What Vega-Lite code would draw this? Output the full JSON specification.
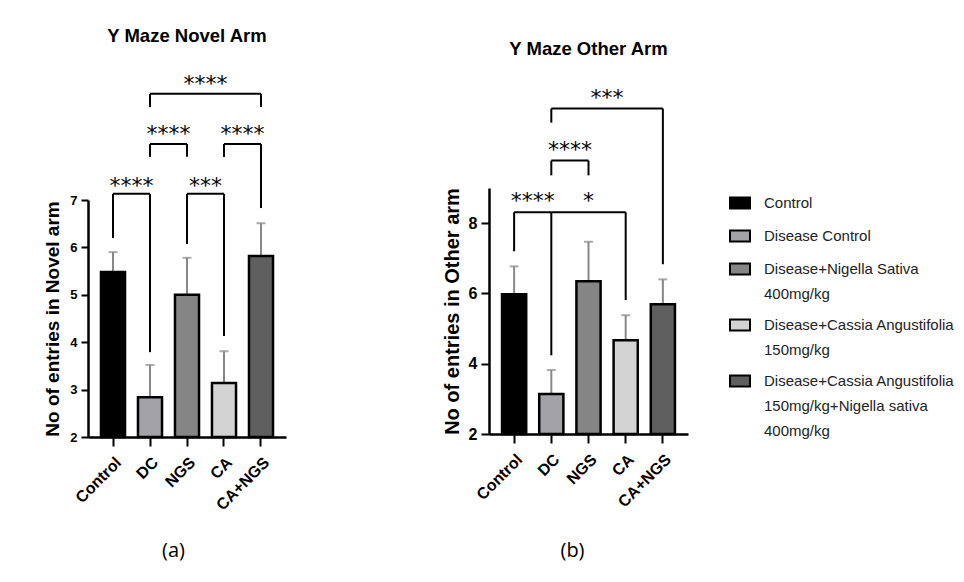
{
  "$schema": "https://vega.github.io/schema/vega-lite/v6.json",
  "background": "white",
  "padding": {"left": 43, "top": 26, "right": 5, "bottom": 5},
  "bounds": "flush",
  "spacing": 203,
  "config": {
    "view": {"stroke": null},
    "font": "Liberation Sans",
    "axis": {"grid": false, "domainColor": "black", "domainWidth": 2.5, "tickColor": "black", "tickWidth": 2, "labelColor": "black", "labelFontWeight": "bold", "titleColor": "black", "labelFont": "Liberation Sans", "titleFont": "Liberation Sans"},
    "legend": {"labelFont": "Liberation Sans", "labelFontSize": 15, "labelColor": "#222222", "labelOffset": 13, "rowPadding": 12, "symbolStrokeColor": "black", "symbolStrokeWidth": 2, "symbolSize": 400, "symbolType": "M-1,-0.55H1V0.55H-1Z", "symbolOpacity": 1, "labelLimit": 0}
  },
  "datasets": {
    "bars": [
      {"panel": "a", "group": "Control", "treatment": "Control", "mean": 5.48, "upper": 5.9},
      {"panel": "a", "group": "DC", "treatment": "Disease Control", "mean": 2.84, "upper": 3.52},
      {"panel": "a", "group": "NGS", "treatment": "Disease+Nigella Sativa|400mg/kg", "mean": 5.0, "upper": 5.78},
      {"panel": "a", "group": "CA", "treatment": "Disease+Cassia Angustifolia|150mg/kg", "mean": 3.14, "upper": 3.81},
      {"panel": "a", "group": "CA+NGS", "treatment": "Disease+Cassia Angustifolia|150mg/kg+Nigella sativa|400mg/kg", "mean": 5.82, "upper": 6.51},
      {"panel": "b", "group": "Control", "treatment": "Control", "mean": 5.98, "upper": 6.77},
      {"panel": "b", "group": "DC", "treatment": "Disease Control", "mean": 3.14, "upper": 3.82},
      {"panel": "b", "group": "NGS", "treatment": "Disease+Nigella Sativa|400mg/kg", "mean": 6.35, "upper": 7.47},
      {"panel": "b", "group": "CA", "treatment": "Disease+Cassia Angustifolia|150mg/kg", "mean": 4.67, "upper": 5.38},
      {"panel": "b", "group": "CA+NGS", "treatment": "Disease+Cassia Angustifolia|150mg/kg+Nigella sativa|400mg/kg", "mean": 5.69, "upper": 6.4}
    ],
    "segs": [
      {"panel": "a", "xa": "Control", "xb": "DC", "ya": 7.13, "yb": 7.13},
      {"panel": "a", "xa": "Control", "xb": "Control", "ya": 7.13, "yb": 6.2},
      {"panel": "a", "xa": "DC", "xb": "DC", "ya": 7.13, "yb": 3.79},
      {"panel": "a", "xa": "NGS", "xb": "CA", "ya": 7.13, "yb": 7.13},
      {"panel": "a", "xa": "NGS", "xb": "NGS", "ya": 7.13, "yb": 6.07},
      {"panel": "a", "xa": "CA", "xb": "CA", "ya": 7.13, "yb": 4.13},
      {"panel": "a", "xa": "DC", "xb": "NGS", "ya": 8.18, "yb": 8.18},
      {"panel": "a", "xa": "DC", "xb": "DC", "ya": 8.18, "yb": 7.91},
      {"panel": "a", "xa": "NGS", "xb": "NGS", "ya": 8.18, "yb": 7.91},
      {"panel": "a", "xa": "CA", "xb": "CA+NGS", "ya": 8.18, "yb": 8.18},
      {"panel": "a", "xa": "CA", "xb": "CA", "ya": 8.18, "yb": 7.91},
      {"panel": "a", "xa": "CA+NGS", "xb": "CA+NGS", "ya": 8.18, "yb": 6.83},
      {"panel": "a", "xa": "DC", "xb": "CA+NGS", "ya": 9.24, "yb": 9.24},
      {"panel": "a", "xa": "DC", "xb": "DC", "ya": 9.24, "yb": 8.96},
      {"panel": "a", "xa": "CA+NGS", "xb": "CA+NGS", "ya": 9.24, "yb": 8.96},
      {"panel": "b", "xa": "Control", "xb": "DC", "ya": 8.31, "yb": 8.31},
      {"panel": "b", "xa": "Control", "xb": "Control", "ya": 8.31, "yb": 7.2},
      {"panel": "b", "xa": "DC", "xb": "DC", "ya": 8.31, "yb": 4.24},
      {"panel": "b", "xa": "DC", "xb": "CA", "ya": 8.31, "yb": 8.31},
      {"panel": "b", "xa": "CA", "xb": "CA", "ya": 8.31, "yb": 5.81},
      {"panel": "b", "xa": "DC", "xb": "NGS", "ya": 9.78, "yb": 9.78},
      {"panel": "b", "xa": "DC", "xb": "DC", "ya": 9.78, "yb": 9.36},
      {"panel": "b", "xa": "NGS", "xb": "NGS", "ya": 9.78, "yb": 9.36},
      {"panel": "b", "xa": "DC", "xb": "CA+NGS", "ya": 11.26, "yb": 11.26},
      {"panel": "b", "xa": "DC", "xb": "DC", "ya": 11.26, "yb": 10.86},
      {"panel": "b", "xa": "CA+NGS", "xb": "CA+NGS", "ya": 11.26, "yb": 6.83}
    ],
    "stars": [
      {"panel": "a", "stars": "****", "at": "Control", "pos": "edge", "y": 7.42},
      {"panel": "a", "stars": "***", "at": "NGS", "pos": "edge", "y": 7.42},
      {"panel": "a", "stars": "****", "at": "DC", "pos": "edge", "y": 8.52},
      {"panel": "a", "stars": "****", "at": "CA", "pos": "edge", "y": 8.52},
      {"panel": "a", "stars": "****", "at": "NGS", "pos": "edge", "y": 9.57},
      {"panel": "b", "stars": "****", "at": "Control", "pos": "edge", "y": 8.79},
      {"panel": "b", "stars": "*", "at": "NGS", "pos": "center", "y": 8.79},
      {"panel": "b", "stars": "****", "at": "DC", "pos": "edge", "y": 10.24},
      {"panel": "b", "stars": "***", "at": "NGS", "pos": "edge", "y": 11.72}
    ]
  },
  "resolve": {"scale": {"x": "independent", "y": "independent", "fill": "shared"}, "legend": {"fill": "shared"}},
  "hconcat": [
    {
      "width": 198,
      "height": 377,
      "title": {"text": "Y Maze Novel Arm", "frame": "group", "anchor": "middle", "baseline": "alphabetic", "offset": 0, "fontSize": 18.5, "fontWeight": "bold", "font": "Liberation Sans", "color": "black"},
      "layer": [
        {
          "data": {"name": "bars"},
          "transform": [{"filter": "datum.panel === 'a'"}],
          "mark": {"type": "rule", "color": "#888888", "strokeWidth": 2},
          "encoding": {
            "x": {"field": "group", "type": "nominal", "sort": null,
              "scale": {"domain": ["Control", "DC", "NGS", "CA", "CA+NGS"], "paddingInner": 0, "paddingOuter": 0.1757},
              "axis": {"title": "(a)", "titleFont": "Open Sans", "titleFontSize": 20, "titleFontWeight": "normal", "titleX": 85, "titleY": 113, "titleBaseline": "middle", "titleAlign": "center", "titleAngle": 0, "labelAngle": -45, "labelAlign": "right", "labelBaseline": "top", "labelFontSize": 16, "labelPadding": 8, "tickSize": 9}},
            "y": {"field": "mean", "type": "quantitative",
              "scale": {"domain": [2, 7], "range": [377, 140], "zero": false, "nice": false},
              "axis": {"title": "No of entries in Novel arm", "values": [2, 3, 4, 5, 6, 7], "format": "d", "titleFontSize": 19, "titleFontWeight": "bold", "titlePadding": 7, "labelFontSize": 13, "tickSize": 7, "labelPadding": 4}},
            "y2": {"field": "upper"}
          }
        },
        {
          "data": {"name": "bars"},
          "transform": [{"filter": "datum.panel === 'a'"}],
          "mark": {"type": "tick", "color": "#888888", "size": 9, "thickness": 2},
          "encoding": {
            "x": {"field": "group", "type": "nominal", "sort": null},
            "y": {"field": "upper", "type": "quantitative"}
          }
        },
        {
          "data": {"name": "bars"},
          "transform": [{"filter": "datum.panel === 'a'"}],
          "mark": {"type": "bar", "stroke": "black", "strokeWidth": 2.5, "width": {"band": 0.65}},
          "encoding": {
            "x": {"field": "group", "type": "nominal", "sort": null},
            "y": {"field": "mean", "type": "quantitative"},
            "y2": {"datum": 2},
            "fill": {"field": "treatment", "type": "nominal",
              "scale": {"domain": ["Control", "Disease Control", "Disease+Nigella Sativa|400mg/kg", "Disease+Cassia Angustifolia|150mg/kg", "Disease+Cassia Angustifolia|150mg/kg+Nigella sativa|400mg/kg"], "range": ["#000000", "#a2a2a7", "#858585", "#d3d3d3", "#5f5f5f"]},
              "legend": {"title": null, "orient": "none", "legendX": 641, "legendY": 132, "labelExpr": "split(datum.label, '|')", "encode": {"labels": {"update": {"lineHeight": {"value": 25}}}}}}
          }
        },
        {
          "data": {"name": "segs"},
          "transform": [{"filter": "datum.panel === 'a'"}],
          "mark": {"type": "rule", "color": "black", "strokeWidth": 2},
          "encoding": {
            "x": {"field": "xa", "type": "nominal", "sort": null},
            "x2": {"field": "xb"},
            "y": {"field": "ya", "type": "quantitative"},
            "y2": {"field": "yb"}
          }
        },
        {
          "data": {"name": "stars"},
          "transform": [{"filter": "datum.panel === 'a' && datum.pos === 'edge'"}],
          "mark": {"type": "text", "font": "DejaVu Sans", "fontSize": 22, "baseline": "alphabetic", "dy": 13, "color": "black"},
          "encoding": {
            "x": {"field": "at", "type": "nominal", "sort": null, "bandPosition": 1},
            "y": {"field": "y", "type": "quantitative"},
            "text": {"field": "stars"}
          }
        }
      ]
    },
    {
      "width": 199,
      "height": 374,
      "title": {"text": "Y Maze Other Arm", "frame": "group", "anchor": "middle", "baseline": "alphabetic", "offset": 0, "dy": 13, "fontSize": 18.5, "fontWeight": "bold", "font": "Liberation Sans", "color": "black"},
      "layer": [
        {
          "data": {"name": "bars"},
          "transform": [{"filter": "datum.panel === 'b'"}],
          "mark": {"type": "rule", "color": "#888888", "strokeWidth": 2},
          "encoding": {
            "x": {"field": "group", "type": "nominal", "sort": null,
              "scale": {"domain": ["Control", "DC", "NGS", "CA", "CA+NGS"], "paddingInner": 0, "paddingOuter": 0.1757},
              "axis": {"title": "(b)", "titleFont": "Open Sans", "titleFontSize": 20, "titleFontWeight": "normal", "titleX": 83, "titleY": 116, "titleBaseline": "middle", "titleAlign": "center", "titleAngle": 0, "labelAngle": -45, "labelAlign": "right", "labelBaseline": "top", "labelFontSize": 16, "labelPadding": 8, "tickSize": 9}},
            "y": {"field": "mean", "type": "quantitative",
              "scale": {"domain": [2, 9], "range": [374, 128], "zero": false, "nice": false},
              "axis": {"title": "No of entries in Other arm", "values": [2, 4, 6, 8], "format": "d", "titleFontSize": 20, "titleFontWeight": "bold", "titlePadding": 6, "labelFontSize": 16, "tickSize": 8, "labelPadding": 4}},
            "y2": {"field": "upper"}
          }
        },
        {
          "data": {"name": "bars"},
          "transform": [{"filter": "datum.panel === 'b'"}],
          "mark": {"type": "tick", "color": "#888888", "size": 9, "thickness": 2},
          "encoding": {
            "x": {"field": "group", "type": "nominal", "sort": null},
            "y": {"field": "upper", "type": "quantitative"}
          }
        },
        {
          "data": {"name": "bars"},
          "transform": [{"filter": "datum.panel === 'b'"}],
          "mark": {"type": "bar", "stroke": "black", "strokeWidth": 2.5, "width": {"band": 0.65}},
          "encoding": {
            "x": {"field": "group", "type": "nominal", "sort": null},
            "y": {"field": "mean", "type": "quantitative"},
            "y2": {"datum": 2},
            "fill": {"field": "treatment", "type": "nominal",
              "legend": {"title": null, "orient": "none", "legendX": 641, "legendY": 132, "labelExpr": "split(datum.label, '|')", "encode": {"labels": {"update": {"lineHeight": {"value": 25}}}}}}
          }
        },
        {
          "data": {"name": "segs"},
          "transform": [{"filter": "datum.panel === 'b'"}],
          "mark": {"type": "rule", "color": "black", "strokeWidth": 2},
          "encoding": {
            "x": {"field": "xa", "type": "nominal", "sort": null},
            "x2": {"field": "xb"},
            "y": {"field": "ya", "type": "quantitative"},
            "y2": {"field": "yb"}
          }
        },
        {
          "data": {"name": "stars"},
          "transform": [{"filter": "datum.panel === 'b' && datum.pos === 'edge'"}],
          "mark": {"type": "text", "font": "DejaVu Sans", "fontSize": 22, "baseline": "alphabetic", "dy": 13, "color": "black"},
          "encoding": {
            "x": {"field": "at", "type": "nominal", "sort": null, "bandPosition": 1},
            "y": {"field": "y", "type": "quantitative"},
            "text": {"field": "stars"}
          }
        },
        {
          "data": {"name": "stars"},
          "transform": [{"filter": "datum.panel === 'b' && datum.pos === 'center'"}],
          "mark": {"type": "text", "font": "DejaVu Sans", "fontSize": 22, "baseline": "alphabetic", "dy": 13, "color": "black"},
          "encoding": {
            "x": {"field": "at", "type": "nominal", "sort": null, "bandPosition": 0.5},
            "y": {"field": "y", "type": "quantitative"},
            "text": {"field": "stars"}
          }
        }
      ]
    }
  ]
}
